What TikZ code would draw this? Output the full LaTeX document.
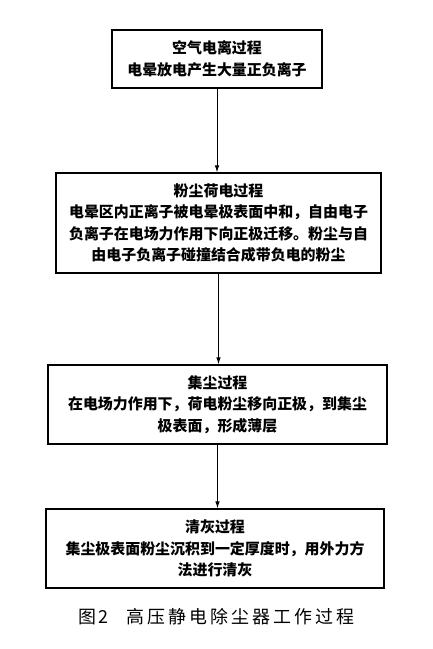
\documentclass[tikz,border=0pt]{standalone}
\usepackage{fontspec}
\newfontfamily\cjk{Noto Sans CJK SC}
\usetikzlibrary{arrows.meta}

\begin{document}
\begin{tikzpicture}[x=1bp, y=-1bp,
    procbox/.style={draw, line width=1.1bp, align=center, inner sep=0pt,
        font=\cjk\bfseries\fontsize{15}{21.5}\selectfont},
    flowarrow/.style={line width=1bp, -{Latex[length=7bp,width=4.5bp]}}]
    \useasboundingbox (0,0) rectangle (432,649);

    % --- 空气电离过程 ---
    \node[procbox, minimum width=210bp, minimum height=58bp] (ionize) at (217,59)
        {空气电离过程\\电晕放电产生大量正负离子};

    % --- 粉尘荷电过程 ---
    \node[procbox, minimum width=325bp, minimum height=100bp] (charge) at (218.5,223)
        {粉尘荷电过程\\电晕区内正离子被电晕极表面中和，自由电子\\负离子在电场力作用下向正极迁移。粉尘与自\\由电子负离子碰撞结合成带负电的粉尘};

    % --- 集尘过程 ---
    \node[procbox, minimum width=339bp, minimum height=79bp] (collect) at (217.5,404.5)
        {集尘过程\\在电场力作用下，荷电粉尘移向正极，到集尘\\极表面，形成薄层};

    % --- 清灰过程 ---
    \node[procbox, minimum width=338bp, minimum height=79bp] (clean) at (215,548.5)
        {清灰过程\\集尘极表面粉尘沉积到一定厚度时，用外力方\\法进行清灰};

    % --- 箭头 ---
    \draw[flowarrow] (ionize.south) -- (ionize.south |- charge.north);
    \draw[flowarrow] (charge.south) -- (charge.south |- collect.north);
    \draw[flowarrow] (collect.south) -- (collect.south |- clean.north);

    % --- 图题 ---
    \node[font=\cjk\fontsize{18}{20}\selectfont] (caption) at (216,617)
        {图\,2\quad 高\,压\,静\,电\,除\,尘\,器\,工\,作\,过\,程};
\end{tikzpicture}
\end{document}
